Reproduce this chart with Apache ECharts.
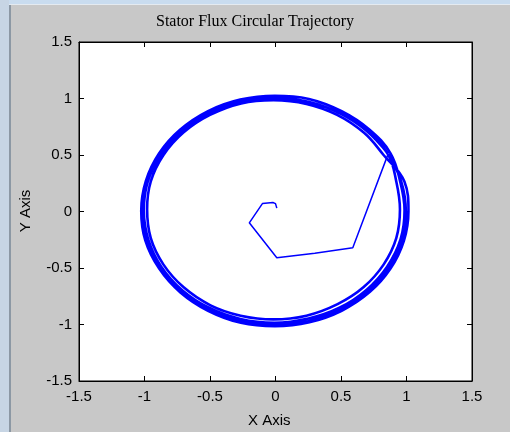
<!DOCTYPE html>
<html>
<head>
<meta charset="utf-8">
<script src="https://cdn.jsdelivr.net/npm/echarts@6/dist/echarts.min.js"></script>
<style>
  html, body { margin: 0; padding: 0; background: #c8c8c8; }
  #echart { width: 510px; height: 432px; }
</style>
</head>
<body>
<div id="echart"></div>
<script>
// axis ticks
let xTicks = [-1.5, -1, -0.5, 0, 0.5, 1, 1.5];
let yTicks = [-1.5, -1, -0.5, 0, 0.5, 1, 1.5];

// start-up transient, from the origin out to the circle
let startX = [0.01, 0.0, -0.02, -0.10, -0.20, 0.01, 0.30, 0.59, 0.86];
let startY = [0.03, 0.07, 0.08, 0.07, -0.10, -0.41, -0.37, -0.32, 0.51];

// four laps around the circle (every 15 deg, from 30 deg on)
let lap1X = [0.860, 0.694, 0.492, 0.248, -0.010, -0.264, -0.508, -0.714, -0.872, -0.975, -1.005, -0.971,
	-0.872, -0.710, -0.508, -0.268, -0.010, 0.252, 0.488, 0.694, 0.852, 0.955, 0.985, 0.951];
let lap1Y = [0.510, 0.714, 0.868, 0.971, 1.005, 0.976, 0.872, 0.714, 0.508, 0.264, 0.010, -0.248,
	-0.488, -0.699, -0.852, -0.951, -0.985, -0.947, -0.852, -0.694, -0.488, -0.244, 0.010, 0.268];

let lap2X = [0.878, 0.716, 0.505, 0.255, -0.005, -0.269, -0.515, -0.731, -0.888, -0.990, -1.025, -0.994,
	-0.888, -0.726, -0.515, -0.264, -0.005, 0.259, 0.505, 0.721, 0.878, 0.980, 1.015, 0.984];
let lap2Y = [0.515, 0.726, 0.888, 0.996, 1.025, 0.990, 0.888, 0.721, 0.515, 0.269, 0.005, -0.255,
	-0.505, -0.716, -0.878, -0.985, -1.015, -0.980, -0.878, -0.711, -0.505, -0.259, 0.005, 0.265];

let lap3X = [0.825, 0.676, 0.470, 0.236, -0.015, -0.262, -0.500, -0.701, -0.855, -0.952, -0.980, -0.952,
	-0.855, -0.701, -0.496, -0.266, -0.015, 0.236, 0.474, 0.671, 0.825, 0.922, 0.950, 0.922];
let lap3Y = [0.500, 0.696, 0.855, 0.952, 0.985, 0.957, 0.855, 0.701, 0.500, 0.266, 0.019, -0.236,
	-0.470, -0.671, -0.830, -0.922, -0.955, -0.922, -0.820, -0.671, -0.470, -0.236, 0.019, 0.266];

let lap4X = [0.860, 0.701, 0.493, 0.250, -0.006, -0.270, -0.513, -0.721, -0.884, -0.981, -1.015, -0.981,
	-0.876, -0.721, -0.513, -0.270, -0.014, 0.250, 0.493, 0.701, 0.864, 0.961, 0.995, 0.961, 0.862];
let lap4Y = [0.503, 0.711, 0.870, 0.971, 1.009, 0.971, 0.870, 0.711, 0.499, 0.260, 0.000, -0.260,
	-0.507, -0.711, -0.870, -0.971, -1.001, -0.971, -0.870, -0.711, -0.499, -0.260, 0.000, 0.260, 0.505];

function pairs(xs, ys) {
	let out = [];
	for (let i = 0; i < xs.length; i++) {
		out.push([xs[i], ys[i]]);
	}
	return out;
}

function drawChart() {
	let dom = document.getElementById("echart");
	let myChart = echarts.init(dom, null, { renderer: 'canvas' });

	let transient = pairs(startX, startY);
	let ring = pairs(lap1X, lap1Y)
		.concat(pairs(lap2X, lap2Y))
		.concat(pairs(lap3X, lap3Y))
		.concat(pairs(lap4X, lap4Y));

	let labelFont = {
		color: '#000',
		fontFamily: 'Liberation Sans, Arial, sans-serif',
		fontSize: 15
	};

	function axis(pos, showLabel, margin) {
		return {
			type: 'value',
			position: pos,
			min: -1.5,
			max: 1.5,
			interval: 0.5,
			axisLine: { show: true, onZero: false, lineStyle: { color: '#000' } },
			axisTick: { show: true, inside: true, length: 5, lineStyle: { color: '#000' } },
			axisLabel: showLabel ? Object.assign({ margin: margin }, labelFont) : { show: false },
			splitLine: { show: false }
		};
	}

	let option = {
		backgroundColor: '#c8c8c8',
		animation: false,
		title: {
			text: 'Stator Flux Circular Trajectory',
			left: 'center',
			top: 9,
			textStyle: {
				color: '#000',
				fontFamily: 'Liberation Serif, Times New Roman, serif',
				fontWeight: 'normal',
				fontSize: 16
			}
		},
		grid: {
			left: 79,
			right: 38,
			top: 42,
			bottom: 51,
			show: true,
			backgroundColor: '#fff',
			borderColor: '#000',
			borderWidth: 1
		},
		xAxis: [axis('bottom', true, 8), axis('top', false)],
		yAxis: [axis('left', true, 7), axis('right', false)],
		graphic: [
			{ type: 'rect', shape: { x: 0, y: 0, width: 510, height: 4 }, style: { fill: '#c9dcef' }, silent: true },
			{ type: 'rect', shape: { x: 0, y: 0, width: 9, height: 432 }, style: { fill: '#c7d5e4' }, silent: true },
			{ type: 'rect', shape: { x: 9, y: 4, width: 2, height: 428 }, style: { fill: '#8c98a4' }, silent: true },
			{ type: 'rect', shape: { x: 9, y: 4, width: 501, height: 1 }, style: { fill: '#e4eaf0' }, silent: true },
			{
				type: 'text', left: 248, top: 413,
				style: { text: 'X Axis', fill: '#000', font: '15px "Liberation Sans", Arial, sans-serif' }
			},
			{
				type: 'text', x: 18, y: 211, rotation: Math.PI / 2,
				style: {
					text: 'Y Axis', fill: '#000', font: '15px "Liberation Sans", Arial, sans-serif',
					align: 'center', verticalAlign: 'top'
				}
			}
		],
		series: [
			{
				name: 'Transient',
				type: 'line',
				data: transient,
				showSymbol: false,
				smooth: false,
				lineStyle: { color: '#0000ff', width: 1.5 }
			},
			{
				name: 'Stator Flux',
				type: 'line',
				data: ring,
				showSymbol: false,
				smooth: 0.4,
				lineStyle: { color: '#0000ff', width: 2.6 }
			}
		]
	};

	myChart.setOption(option);
}

drawChart();
</script>
</body>
</html>
